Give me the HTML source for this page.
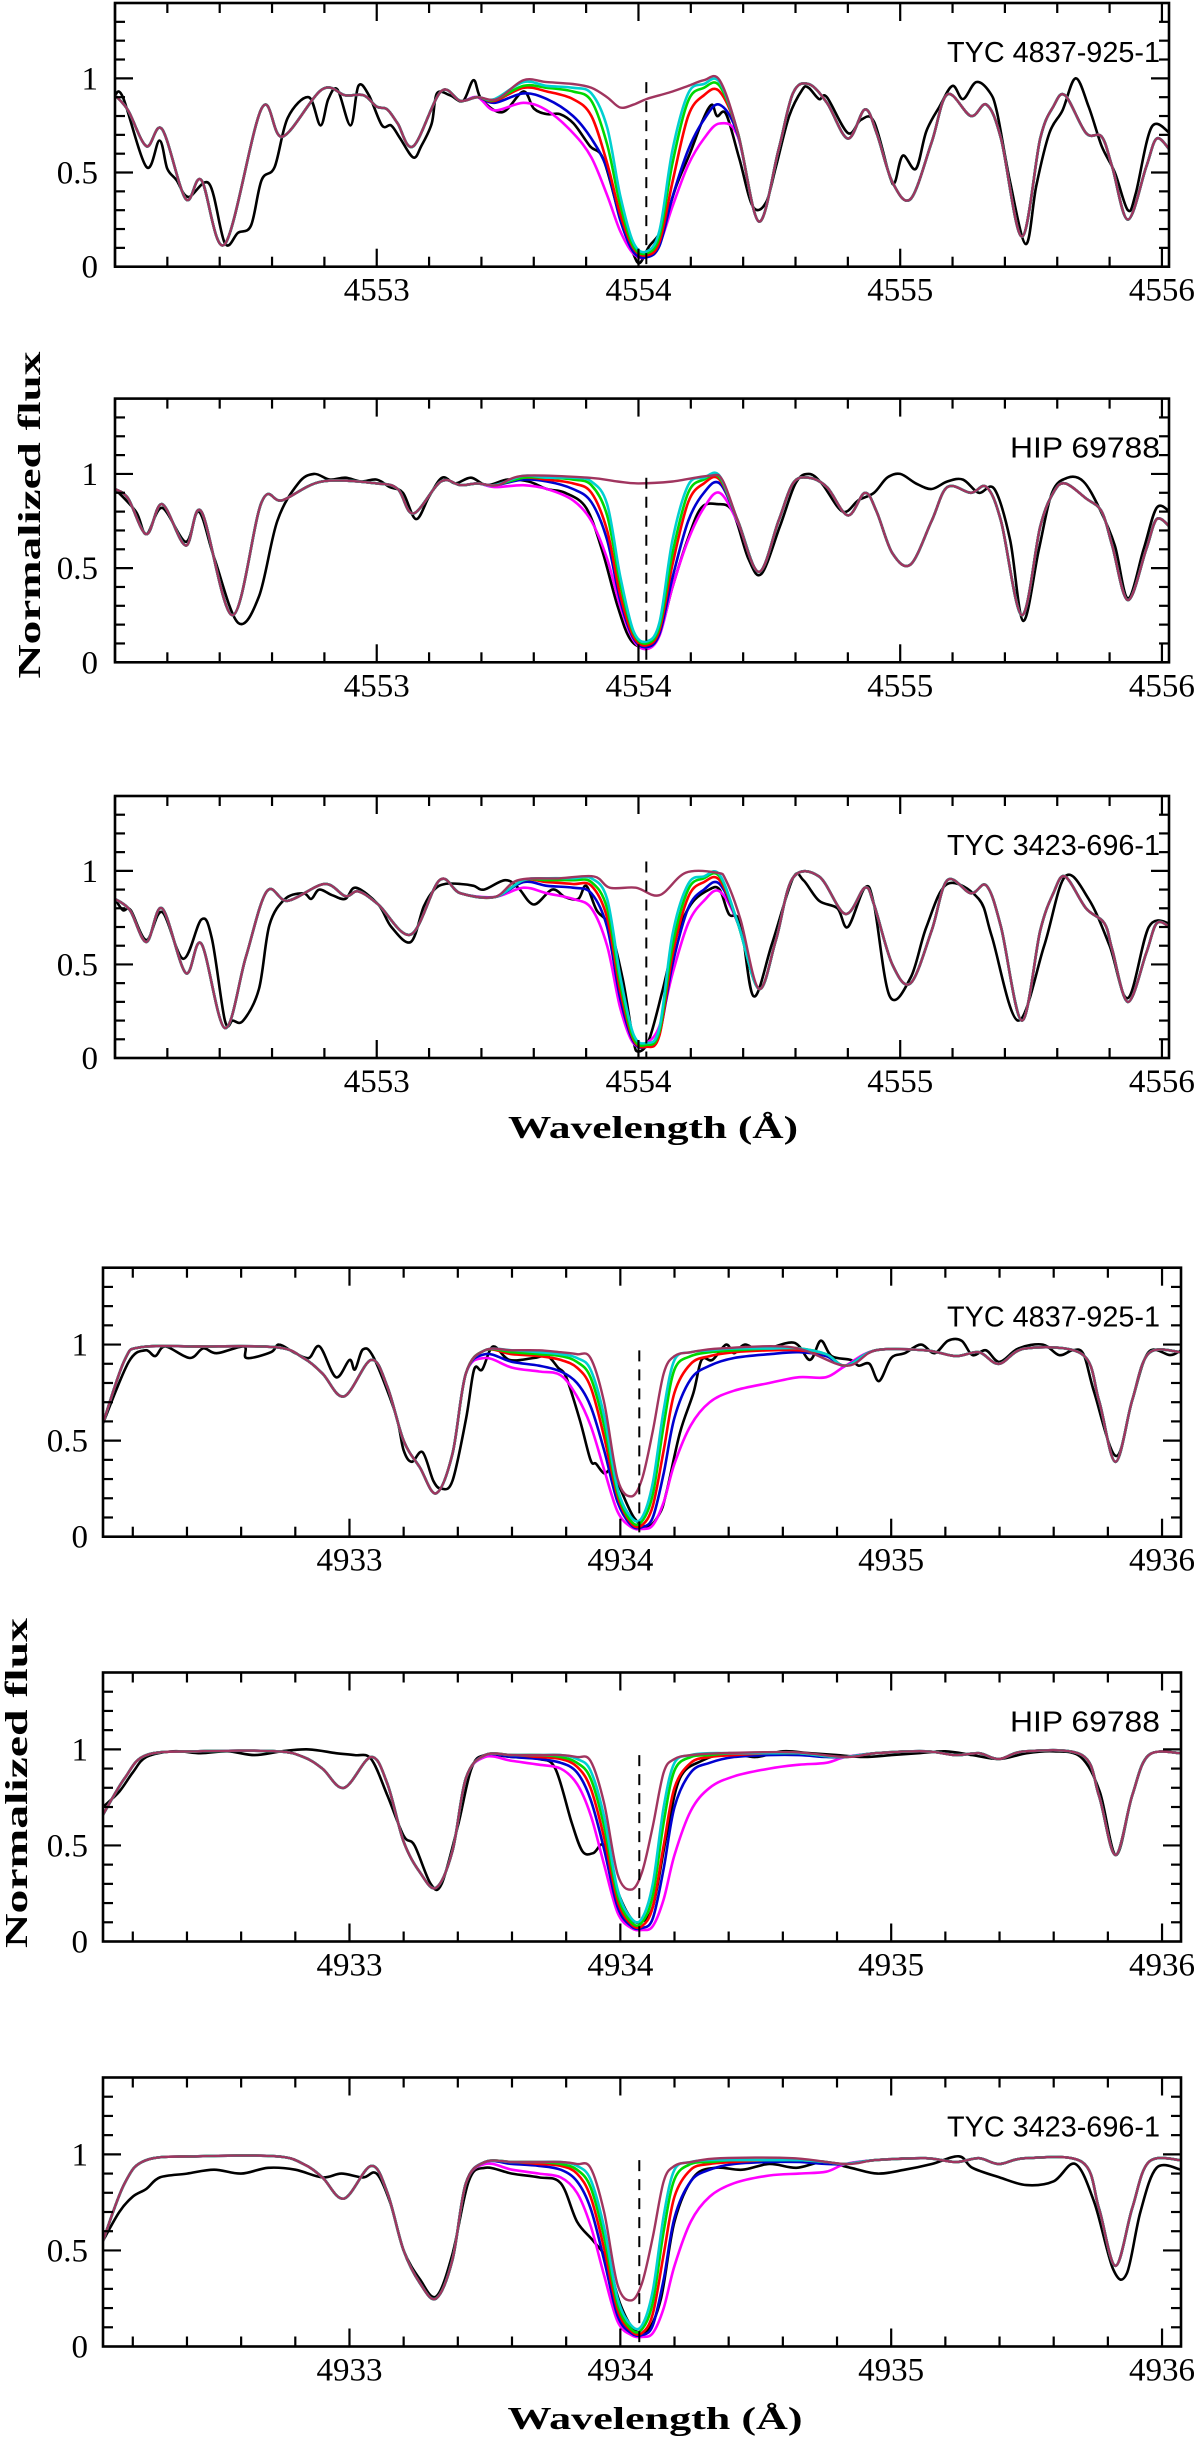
<!DOCTYPE html>
<html><head><meta charset="utf-8"><title>Spectra</title>
<style>
html,body{margin:0;padding:0;background:#fff;}
svg{display:block;}
.tick{font-family:"Liberation Serif",serif;font-size:33px;fill:#000;}
.star{font-family:"Liberation Sans",sans-serif;font-size:29px;fill:#000;}
.title{font-family:"Liberation Serif",serif;font-weight:bold;font-size:32px;fill:#000;}
</style></head>
<body>
<svg id="chart" width="1200" height="2441" viewBox="0 0 1200 2441" xmlns="http://www.w3.org/2000/svg">
<text class="title" transform="translate(40,515) rotate(-90)" text-anchor="middle" textLength="327" lengthAdjust="spacingAndGlyphs">Normalized  flux</text>
<text class="title" transform="translate(27,1783) rotate(-90)" text-anchor="middle" textLength="330" lengthAdjust="spacingAndGlyphs">Normalized  flux</text>
<text class="title" x="653" y="1138" text-anchor="middle" textLength="290" lengthAdjust="spacingAndGlyphs">Wavelength (Å)</text>
<text class="title" x="655" y="2429" text-anchor="middle" textLength="295" lengthAdjust="spacingAndGlyphs">Wavelength (Å)</text>
</svg>
<script>
// ---------- core grids (wavelength, Å) ----------
const topGrid=[4553.45,4553.56,4553.65,4553.75,4553.82,4553.88,4553.93,4553.98,4554.03,4554.08,4554.13,4554.19,4554.25,4554.31,4554.38,4554.46];
const botGrid=[4933.50,4933.60,4933.70,4933.78,4933.84,4933.89,4933.94,4933.99,4934.04,4934.08,4934.12,4934.16,4934.20,4934.26,4934.33,4934.42,4934.55,4934.66,4934.76];

// ---------- Panel 1: TYC 4837-925-1 (4554) ----------
const p1SynWl=[4552.0,4552.05,4552.12,4552.18,4552.27,4552.33,4552.42,4552.56,4552.64,4552.79,4552.88,4552.95,4553.0,4553.04,4553.08,4553.14,4553.245,4553.32,4553.385,4553.46,4553.56,4553.65,4553.75,4553.82,4553.88,4553.93,4553.98,4554.03,4554.08,4554.13,4554.19,4554.25,4554.31,4554.38,4554.46,4554.535,4554.59,4554.65,4554.72,4554.80,4554.865,4554.91,4554.97,4555.04,4555.12,4555.18,4555.27,4555.33,4555.385,4555.465,4555.535,4555.585,4555.63,4555.71,4555.77,4555.81,4555.87,4555.94,4555.98,4556.03];
const p1SynFlux=[0.91,0.83,0.64,0.73,0.36,0.46,0.12,0.84,0.69,0.94,0.91,0.91,0.85,0.835,0.76,0.64,0.93,0.88,0.90,0.89,0.99,0.98,0.97,0.95,0.90,0.845,0.86,0.89,0.91,0.93,0.96,0.99,0.99,0.71,0.24,0.62,0.92,0.97,0.87,0.68,0.835,0.71,0.45,0.36,0.66,0.915,0.80,0.86,0.68,0.16,0.68,0.85,0.91,0.71,0.69,0.53,0.25,0.53,0.68,0.62];
const p1Magenta=[0.83,0.87,0.83,0.71,0.58,0.38,0.19,0.07,0.05,0.12,0.32,0.54,0.68,0.76,0.69,0.24];
const p1Blue=[0.87,0.92,0.89,0.80,0.68,0.52,0.25,0.08,0.05,0.11,0.37,0.62,0.78,0.86,0.70,0.24];
const p1Red=[0.88,0.95,0.93,0.89,0.80,0.55,0.28,0.10,0.06,0.13,0.45,0.80,0.91,0.93,0.71,0.24];
const p1Green=[0.885,0.96,0.95,0.93,0.88,0.65,0.33,0.11,0.07,0.16,0.55,0.88,0.95,0.96,0.71,0.24];
const p1Cyan=[0.89,0.98,0.96,0.95,0.92,0.74,0.38,0.13,0.08,0.19,0.62,0.92,0.97,0.98,0.71,0.24];
const p1ObsWl=[4552.0,4552.03,4552.12,4552.17,4552.20,4552.235,4552.28,4552.36,4552.42,4552.47,4552.52,4552.56,4552.61,4552.66,4552.74,4552.785,4552.815,4552.85,4552.90,4552.93,4552.97,4553.02,4553.055,4553.09,4553.14,4553.17,4553.21,4553.23,4553.28,4553.33,4553.37,4553.40,4553.48,4553.56,4553.60,4553.65,4553.70,4553.752,4553.815,4553.866,4553.93,4553.98,4554.005,4554.04,4554.09,4554.145,4554.196,4554.246,4554.28,4554.30,4554.335,4554.386,4554.437,4554.487,4554.525,4554.576,4554.626,4554.65,4554.69,4554.72,4554.80,4554.85,4554.90,4554.96,4554.98,4555.01,4555.06,4555.10,4555.15,4555.20,4555.24,4555.29,4555.34,4555.37,4555.42,4555.48,4555.52,4555.57,4555.62,4555.67,4555.72,4555.77,4555.82,4555.87,4555.90,4555.96,4556.03];
const p1ObsFlux=[0.91,0.90,0.53,0.67,0.52,0.46,0.37,0.44,0.125,0.18,0.22,0.46,0.53,0.79,0.90,0.75,0.89,0.94,0.75,0.96,0.91,0.75,0.75,0.68,0.58,0.64,0.76,0.92,0.91,0.88,0.99,0.89,0.82,0.93,0.84,0.81,0.81,0.76,0.64,0.57,0.26,0.07,0.02,0.106,0.20,0.43,0.60,0.78,0.86,0.80,0.81,0.57,0.32,0.34,0.53,0.80,0.94,0.95,0.89,0.90,0.71,0.78,0.77,0.48,0.45,0.59,0.52,0.72,0.85,0.96,0.89,0.98,0.93,0.82,0.45,0.12,0.43,0.71,0.83,1.0,0.85,0.64,0.50,0.30,0.39,0.74,0.71];

// ---------- Panel 2: HIP 69788 (4554) ----------
const p2SynWl=[4552.0,4552.05,4552.12,4552.18,4552.27,4552.33,4552.45,4552.56,4552.64,4552.79,4553.0,4553.08,4553.14,4553.245,4553.32,4553.385,4553.46,4553.56,4553.81,4553.92,4554.0,4554.13,4554.27,4554.32,4554.38,4554.46,4554.535,4554.59,4554.65,4554.72,4554.80,4554.865,4554.91,4554.97,4555.04,4555.12,4555.18,4555.27,4555.33,4555.385,4555.465,4555.535,4555.585,4555.63,4555.71,4555.77,4555.81,4555.87,4555.94,4555.98,4556.03];
const p2SynFlux=[0.92,0.87,0.68,0.84,0.62,0.80,0.25,0.85,0.86,0.96,0.95,0.92,0.79,0.96,0.94,0.95,0.94,0.99,0.98,0.96,0.95,0.96,0.99,0.97,0.75,0.48,0.75,0.95,0.98,0.93,0.78,0.90,0.80,0.58,0.52,0.75,0.93,0.90,0.93,0.75,0.25,0.72,0.90,0.95,0.87,0.80,0.62,0.33,0.60,0.76,0.72];
const p2Magenta=[0.93,0.94,0.92,0.86,0.75,0.55,0.30,0.12,0.07,0.14,0.40,0.65,0.82,0.90,0.74,0.48];
const p2Blue=[0.94,0.97,0.96,0.92,0.85,0.65,0.33,0.13,0.08,0.15,0.45,0.75,0.90,0.95,0.75,0.48];
const p2Red=[0.94,0.98,0.97,0.95,0.90,0.70,0.36,0.14,0.09,0.17,0.52,0.85,0.95,0.97,0.75,0.48];
const p2Green=[0.94,0.98,0.98,0.97,0.94,0.78,0.42,0.16,0.10,0.19,0.58,0.90,0.97,0.98,0.75,0.48];
const p2Cyan=[0.94,0.99,0.98,0.98,0.96,0.84,0.46,0.17,0.11,0.21,0.65,0.94,0.98,0.99,0.75,0.48];
const p2ObsWl=[4552.0,4552.08,4552.12,4552.18,4552.27,4552.32,4552.38,4552.47,4552.55,4552.62,4552.70,4552.76,4552.82,4552.88,4552.94,4553.0,4553.05,4553.1,4553.15,4553.2,4553.25,4553.3,4553.36,4553.42,4553.5,4553.58,4553.65,4553.72,4553.8,4553.86,4553.92,4553.97,4554.03,4554.08,4554.13,4554.19,4554.24,4554.3,4554.36,4554.42,4554.47,4554.54,4554.6,4554.65,4554.7,4554.78,4554.84,4554.9,4554.95,4555.0,4555.06,4555.12,4555.18,4555.24,4555.3,4555.36,4555.42,4555.47,4555.53,4555.58,4555.64,4555.7,4555.76,4555.82,4555.87,4555.93,4555.98,4556.03];
const p2ObsFlux=[0.92,0.80,0.68,0.82,0.64,0.80,0.55,0.21,0.35,0.75,0.95,1.0,0.97,0.98,0.96,0.97,0.93,0.90,0.76,0.88,0.98,0.95,0.98,0.94,0.97,0.96,0.92,0.90,0.82,0.60,0.30,0.12,0.08,0.15,0.40,0.66,0.82,0.84,0.80,0.55,0.47,0.72,0.95,1.0,0.95,0.80,0.86,0.90,0.98,1.0,0.95,0.92,0.96,0.97,0.90,0.92,0.65,0.22,0.60,0.90,0.98,0.96,0.82,0.62,0.34,0.60,0.82,0.80];

// ---------- Panel 3: TYC 3423-696-1 (4554) ----------
const p3SynWl=[4552.0,4552.057,4552.12,4552.18,4552.27,4552.33,4552.42,4552.50,4552.58,4552.66,4552.80,4552.88,4552.93,4553.006,4553.13,4553.24,4553.32,4553.45,4553.54,4553.70,4553.83,4553.89,4553.99,4554.08,4554.18,4554.30,4554.334,4554.39,4554.46,4554.525,4554.589,4554.69,4554.79,4554.865,4554.90,4554.97,4555.04,4555.12,4555.18,4555.27,4555.33,4555.385,4555.465,4555.535,4555.585,4555.63,4555.71,4555.78,4555.81,4555.87,4555.94,4555.98,4556.03];
const p3SynFlux=[0.85,0.79,0.62,0.80,0.455,0.61,0.16,0.54,0.89,0.84,0.93,0.865,0.89,0.82,0.66,0.95,0.88,0.86,0.95,0.96,0.97,0.91,0.91,0.87,0.99,0.99,0.95,0.74,0.37,0.63,0.96,0.97,0.77,0.91,0.82,0.50,0.40,0.68,0.95,0.88,0.92,0.70,0.20,0.68,0.88,0.97,0.80,0.72,0.58,0.30,0.56,0.72,0.70];
const p3Magenta=[0.86,0.91,0.88,0.85,0.80,0.60,0.27,0.08,0.08,0.17,0.45,0.72,0.84,0.89,0.72,0.37];
const p3Blue=[0.86,0.94,0.92,0.91,0.88,0.70,0.32,0.09,0.06,0.13,0.50,0.80,0.90,0.93,0.72,0.37];
const p3Red=[0.86,0.95,0.94,0.93,0.92,0.75,0.36,0.10,0.06,0.12,0.55,0.86,0.94,0.95,0.72,0.37];
const p3Green=[0.86,0.95,0.95,0.95,0.94,0.80,0.40,0.11,0.07,0.14,0.60,0.90,0.96,0.97,0.72,0.37];
const p3Cyan=[0.86,0.95,0.96,0.96,0.96,0.85,0.44,0.13,0.08,0.16,0.66,0.93,0.97,0.98,0.72,0.37];
const p3ObsWl=[4552.0,4552.03,4552.06,4552.12,4552.18,4552.26,4552.33,4552.37,4552.42,4552.45,4552.49,4552.55,4552.59,4552.65,4552.72,4552.75,4552.78,4552.83,4552.88,4552.92,4553.006,4553.056,4553.13,4553.18,4553.22,4553.26,4553.32,4553.37,4553.41,4553.49,4553.54,4553.60,4553.67,4553.72,4553.77,4553.80,4553.84,4553.89,4553.94,4553.98,4554.0,4554.04,4554.09,4554.14,4554.20,4554.27,4554.31,4554.345,4554.39,4554.44,4554.51,4554.59,4554.63,4554.69,4554.76,4554.80,4554.865,4554.90,4554.96,4555.04,4555.10,4555.18,4555.3,4555.35,4555.45,4555.55,4555.63,4555.72,4555.8,4555.87,4555.95,4556.03];
const p3ObsFlux=[0.85,0.79,0.79,0.63,0.78,0.53,0.74,0.64,0.20,0.20,0.20,0.37,0.71,0.85,0.88,0.85,0.90,0.87,0.85,0.91,0.82,0.70,0.62,0.81,0.90,0.93,0.93,0.92,0.90,0.95,0.91,0.82,0.90,0.86,0.85,0.92,0.79,0.70,0.42,0.096,0.035,0.096,0.35,0.63,0.82,0.90,0.90,0.77,0.72,0.33,0.61,0.96,0.95,0.84,0.80,0.70,0.91,0.82,0.33,0.43,0.70,0.93,0.85,0.65,0.20,0.60,0.97,0.85,0.60,0.32,0.70,0.72];

// ---------- Panel 4: TYC 4837-925-1 (4934) ----------
const p4SynWl=[4932.09,4932.17,4932.23,4932.44,4932.73,4932.83,4932.90,4932.98,4933.08,4933.14,4933.20,4933.26,4933.32,4933.38,4933.43,4933.50,4933.60,4933.70,4933.78,4933.84,4933.89,4933.94,4933.99,4934.04,4934.08,4934.12,4934.16,4934.20,4934.26,4934.37,4934.636,4934.832,4934.943,4935.127,4935.238,4935.324,4935.398,4935.496,4935.705,4935.767,4935.828,4935.89,4935.951,4936.07];
const p4SynFlux=[0.59,0.92,0.986,0.99,0.986,0.93,0.85,0.73,0.92,0.78,0.50,0.36,0.226,0.43,0.85,0.97,0.97,0.97,0.96,0.95,0.93,0.70,0.30,0.21,0.30,0.55,0.85,0.94,0.96,0.98,0.985,0.89,0.97,0.97,0.94,0.96,0.90,0.98,0.95,0.71,0.39,0.71,0.955,0.96];
const p4Magenta=[0.93,0.88,0.86,0.84,0.73,0.58,0.35,0.13,0.05,0.04,0.06,0.18,0.38,0.58,0.70,0.76,0.80,0.83,0.83];
const p4Blue=[0.95,0.91,0.89,0.86,0.80,0.68,0.45,0.18,0.06,0.05,0.10,0.33,0.62,0.82,0.89,0.93,0.95,0.96,0.94];
const p4Red=[0.97,0.95,0.94,0.92,0.88,0.78,0.52,0.21,0.07,0.06,0.16,0.45,0.75,0.90,0.94,0.96,0.97,0.97,0.95];
const p4Green=[0.97,0.96,0.95,0.94,0.91,0.83,0.58,0.23,0.08,0.08,0.22,0.58,0.87,0.94,0.96,0.97,0.98,0.98,0.95];
const p4Cyan=[0.97,0.97,0.96,0.95,0.93,0.87,0.63,0.25,0.10,0.10,0.28,0.66,0.92,0.96,0.97,0.98,0.98,0.98,0.95];
const p4ObsWl=[4932.09,4932.185,4932.246,4932.283,4932.32,4932.41,4932.46,4932.51,4932.61,4932.62,4932.71,4932.74,4932.80,4932.85,4932.89,4932.95,4933.0,4933.02,4933.05,4933.09,4933.17,4933.20,4933.23,4933.27,4933.31,4933.34,4933.38,4933.43,4933.46,4933.49,4933.53,4933.59,4933.68,4933.73,4933.77,4933.80,4933.85,4933.89,4933.91,4933.94,4933.97,4934.0,4934.05,4934.1,4934.145,4934.17,4934.22,4934.27,4934.30,4934.34,4934.39,4934.42,4934.46,4934.52,4934.64,4934.70,4934.74,4934.78,4934.85,4934.88,4934.92,4934.955,4935.0,4935.05,4935.11,4935.16,4935.21,4935.26,4935.30,4935.35,4935.40,4935.47,4935.56,4935.62,4935.67,4935.71,4935.75,4935.83,4935.89,4935.95,4936.03,4936.07];
const p4ObsFlux=[0.59,0.91,0.97,0.94,0.99,0.93,0.98,0.955,0.99,0.93,0.96,1.0,0.955,0.93,0.99,0.83,0.92,0.87,0.975,0.93,0.64,0.45,0.39,0.44,0.29,0.25,0.29,0.61,0.87,0.87,0.99,0.92,0.93,0.94,0.88,0.83,0.61,0.40,0.38,0.33,0.35,0.25,0.10,0.05,0.12,0.23,0.54,0.75,0.92,0.92,1.0,0.955,1.0,0.97,1.01,0.92,1.02,0.94,0.92,0.89,0.90,0.81,0.93,0.955,1.0,0.955,1.02,1.02,0.945,0.97,0.91,0.98,1.0,0.945,0.97,0.95,0.75,0.42,0.71,0.96,0.945,0.97];

// ---------- Panel 5: HIP 69788 (4934) ----------
const p5SynWl=[4932.09,4932.17,4932.25,4932.44,4932.73,4932.83,4932.90,4932.98,4933.08,4933.14,4933.20,4933.26,4933.32,4933.38,4933.43,4933.50,4933.60,4933.70,4933.78,4933.84,4933.89,4933.94,4933.99,4934.04,4934.08,4934.12,4934.16,4934.20,4934.26,4934.37,4934.636,4934.832,4934.943,4935.127,4935.238,4935.324,4935.398,4935.496,4935.705,4935.767,4935.828,4935.89,4935.951,4936.07];
const p5SynFlux=[0.66,0.85,0.97,0.99,0.99,0.96,0.90,0.80,0.96,0.82,0.52,0.36,0.28,0.47,0.85,0.97,0.97,0.97,0.97,0.96,0.94,0.72,0.35,0.27,0.36,0.60,0.88,0.95,0.97,0.98,0.985,0.96,0.98,0.99,0.97,0.98,0.95,0.99,0.97,0.76,0.45,0.76,0.97,0.98];
const p5Magenta=[0.96,0.94,0.92,0.90,0.82,0.66,0.40,0.15,0.07,0.06,0.08,0.22,0.45,0.68,0.80,0.86,0.90,0.92,0.93];
const p5Blue=[0.97,0.96,0.95,0.93,0.88,0.74,0.48,0.18,0.08,0.07,0.12,0.38,0.70,0.88,0.93,0.96,0.97,0.97,0.96];
const p5Red=[0.97,0.97,0.96,0.95,0.91,0.80,0.54,0.21,0.09,0.08,0.18,0.50,0.80,0.93,0.96,0.97,0.98,0.98,0.965];
const p5Green=[0.97,0.97,0.97,0.96,0.93,0.85,0.60,0.24,0.10,0.10,0.24,0.62,0.89,0.96,0.97,0.98,0.98,0.98,0.965];
const p5Cyan=[0.97,0.97,0.97,0.97,0.95,0.89,0.65,0.27,0.12,0.12,0.30,0.70,0.93,0.97,0.98,0.98,0.98,0.98,0.965];
const p5ObsWl=[4932.09,4932.15,4932.2,4932.25,4932.35,4932.45,4932.55,4932.65,4932.75,4932.85,4932.95,4933.02,4933.08,4933.14,4933.2,4933.24,4933.3,4933.34,4933.4,4933.45,4933.5,4933.6,4933.7,4933.76,4933.82,4933.86,4933.9,4933.94,4933.98,4934.03,4934.07,4934.12,4934.17,4934.22,4934.3,4934.4,4934.5,4934.6,4934.7,4934.8,4934.9,4935.0,4935.1,4935.2,4935.3,4935.4,4935.5,4935.6,4935.7,4935.77,4935.83,4935.89,4935.95,4936.07];
const p5ObsFlux=[0.70,0.78,0.88,0.96,0.99,0.98,0.99,0.97,0.99,1.0,0.98,0.97,0.95,0.76,0.55,0.50,0.30,0.30,0.60,0.90,0.97,0.96,0.95,0.90,0.62,0.47,0.46,0.50,0.30,0.14,0.10,0.18,0.55,0.85,0.94,0.98,0.96,0.99,0.98,0.97,0.96,0.97,0.98,0.99,0.97,0.95,0.98,0.99,0.96,0.78,0.45,0.76,0.97,0.98];

// ---------- Panel 6: TYC 3423-696-1 (4934) ----------
const p6SynWl=[4932.09,4932.17,4932.25,4932.44,4932.73,4932.83,4932.90,4932.98,4933.08,4933.14,4933.20,4933.26,4933.32,4933.38,4933.43,4933.50,4933.60,4933.70,4933.78,4933.84,4933.89,4933.94,4933.99,4934.04,4934.08,4934.12,4934.16,4934.20,4934.26,4934.37,4934.636,4934.832,4934.943,4935.127,4935.238,4935.324,4935.398,4935.496,4935.705,4935.767,4935.828,4935.89,4935.951,4936.07];
const p6SynFlux=[0.55,0.85,0.97,0.99,0.99,0.95,0.88,0.77,0.94,0.80,0.50,0.33,0.25,0.45,0.85,0.96,0.96,0.96,0.96,0.95,0.93,0.70,0.32,0.24,0.33,0.57,0.86,0.94,0.96,0.98,0.98,0.95,0.97,0.98,0.96,0.98,0.95,0.98,0.96,0.72,0.42,0.72,0.96,0.97];
const p6Magenta=[0.95,0.92,0.90,0.88,0.80,0.63,0.37,0.13,0.06,0.05,0.07,0.20,0.42,0.65,0.78,0.85,0.89,0.90,0.91];
const p6Blue=[0.96,0.95,0.94,0.92,0.86,0.72,0.45,0.16,0.07,0.06,0.11,0.35,0.67,0.86,0.92,0.95,0.96,0.96,0.95];
const p6Red=[0.96,0.96,0.95,0.94,0.90,0.78,0.51,0.19,0.08,0.07,0.17,0.48,0.78,0.92,0.95,0.96,0.97,0.97,0.96];
const p6Green=[0.96,0.96,0.96,0.95,0.92,0.83,0.57,0.22,0.09,0.09,0.23,0.60,0.87,0.95,0.96,0.97,0.97,0.97,0.96];
const p6Cyan=[0.96,0.96,0.96,0.96,0.94,0.87,0.62,0.25,0.11,0.11,0.29,0.68,0.92,0.96,0.97,0.97,0.97,0.97,0.96];
const p6ObsWl=[4932.09,4932.15,4932.2,4932.25,4932.3,4932.4,4932.5,4932.6,4932.7,4932.8,4932.9,4932.97,4933.05,4933.1,4933.15,4933.2,4933.26,4933.32,4933.38,4933.44,4933.5,4933.6,4933.7,4933.78,4933.84,4933.9,4933.95,4934.0,4934.05,4934.1,4934.15,4934.2,4934.27,4934.35,4934.45,4934.55,4934.65,4934.75,4934.85,4934.95,4935.05,4935.15,4935.25,4935.3,4935.4,4935.5,4935.6,4935.68,4935.75,4935.82,4935.87,4935.92,4935.98,4936.07];
const p6ObsFlux=[0.55,0.70,0.78,0.82,0.88,0.90,0.92,0.90,0.93,0.92,0.88,0.90,0.88,0.90,0.75,0.50,0.35,0.26,0.48,0.86,0.93,0.90,0.88,0.85,0.65,0.55,0.45,0.22,0.09,0.08,0.25,0.65,0.88,0.93,0.92,0.95,0.93,0.96,0.93,0.90,0.92,0.95,0.99,0.93,0.88,0.84,0.86,0.95,0.75,0.40,0.38,0.70,0.93,0.92];

const xTicksTop=[4553,4554,4555,4556];
const xTicksBot=[4933,4934,4935,4936];
const yTickLabels=["0","0.5","1"];
const yTickValues=[0,0.5,1];
const starNames=["TYC 4837-925-1","HIP 69788","TYC 3423-696-1","TYC 4837-925-1","HIP 69788","TYC 3423-696-1"];
const lineCenters=[4554.03,4934.07];

// ---------- layout ----------
const SVGNS="http://www.w3.org/2000/svg";
const svg=document.getElementById('chart');
const colors={magenta:"#ff00ff",blue:"#0000d0",red:"#ff0000",green:"#00d800",cyan:"#00d0d0",maroon:"#a0355f"};
const panels=[
 {left:115,right:1169,bottom:266.7,h:263.7,x0:4552.0,x1:4556.027,ticks:xTicksTop,grid:topGrid,center:lineCenters[0],dashTop:0.98,obsW:p1ObsWl,obs:p1ObsFlux,synW:p1SynWl,syn:p1SynFlux,m:[p1Magenta,p1Blue,p1Red,p1Green,p1Cyan],name:starNames[0],lab:98},
 {left:115,right:1169,bottom:662.3,h:263.7,x0:4552.0,x1:4556.027,ticks:xTicksTop,grid:topGrid,center:lineCenters[0],dashTop:0.98,obsW:p2ObsWl,obs:p2ObsFlux,synW:p2SynWl,syn:p2SynFlux,m:[p2Magenta,p2Blue,p2Red,p2Green,p2Cyan],name:starNames[1],lab:98},
 {left:115,right:1169,bottom:1058,h:262,x0:4552.0,x1:4556.027,ticks:xTicksTop,grid:topGrid,center:lineCenters[0],dashTop:1.05,obsW:p3ObsWl,obs:p3ObsFlux,synW:p3SynWl,syn:p3SynFlux,m:[p3Magenta,p3Blue,p3Red,p3Green,p3Cyan],name:starNames[2],lab:98},
 {left:103,right:1181,bottom:1536.7,h:269,x0:4932.09,x1:4936.07,ticks:xTicksBot,grid:botGrid,center:lineCenters[1],dashTop:0.97,obsW:p4ObsWl,obs:p4ObsFlux,synW:p4SynWl,syn:p4SynFlux,m:[p4Magenta,p4Blue,p4Red,p4Green,p4Cyan],name:starNames[3],lab:88},
 {left:103,right:1181,bottom:1941.5,h:269,x0:4932.09,x1:4936.07,ticks:xTicksBot,grid:botGrid,center:lineCenters[1],dashTop:0.97,obsW:p5ObsWl,obs:p5ObsFlux,synW:p5SynWl,syn:p5SynFlux,m:[p5Magenta,p5Blue,p5Red,p5Green,p5Cyan],name:starNames[4],lab:88},
 {left:103,right:1181,bottom:2346.5,h:269,x0:4932.09,x1:4936.07,ticks:xTicksBot,grid:botGrid,center:lineCenters[1],dashTop:0.97,obsW:p6ObsWl,obs:p6ObsFlux,synW:p6SynWl,syn:p6SynFlux,m:[p6Magenta,p6Blue,p6Red,p6Green,p6Cyan],name:starNames[5],lab:88}
];
const modelKeys=["magenta","blue","red","green","cyan"];

function mk(tag,attrs,parent){const e=document.createElementNS(SVGNS,tag);for(const k in attrs)e.setAttribute(k,attrs[k]);(parent||svg).appendChild(e);return e;}
function smoothPath(pts){
  if(pts.length<2)return "";
  let d="M"+pts[0][0].toFixed(1)+","+pts[0][1].toFixed(1);
  for(let i=0;i<pts.length-1;i++){
    const p0=pts[i-1]||pts[i],p1=pts[i],p2=pts[i+1],p3=pts[i+2]||p2;
    const c1x=p1[0]+(p2[0]-p0[0])/6,c1y=p1[1]+(p2[1]-p0[1])/6;
    const c2x=p2[0]-(p3[0]-p1[0])/6,c2y=p2[1]-(p3[1]-p1[1])/6;
    d+="C"+c1x.toFixed(1)+","+c1y.toFixed(1)+" "+c2x.toFixed(1)+","+c2y.toFixed(1)+" "+p2[0].toFixed(1)+","+p2[1].toFixed(1);
  }
  return d;
}

panels.forEach((P,pi)=>{
  const top=P.bottom-P.h;
  const xs=v=>P.left+(v-P.x0)/(P.x1-P.x0)*(P.right-P.left);
  const ys=v=>P.bottom-v/1.4*P.h;
  const g=mk('g',{});
  
  
  const clipId='clip'+pi;
  const cp=mk('clipPath',{id:clipId},g);
  mk('rect',{x:P.left,y:top,width:P.right-P.left,height:P.h},cp);
  const plot=mk('g',{'clip-path':'url(#'+clipId+')'},g);
  
  
  const obsPts=P.obsW.map((w,i)=>[xs(w),ys(P.obs[i])]);
  const ob=mk('path',{d:smoothPath(obsPts),fill:'none',stroke:'#000','stroke-width':2.6,'stroke-linejoin':'round'},plot);
  
  
  const g0=P.grid[0],g1=P.grid[P.grid.length-1];
  modelKeys.forEach((key,mi)=>{
    const vals=P.m[mi];
    const pts=[];
    P.synW.forEach((w,i)=>{if(w<g0)pts.push([w,P.syn[i]]);});
    P.grid.forEach((w,i)=>pts.push([w,vals[i]]));
    P.synW.forEach((w,i)=>{if(w>g1)pts.push([w,P.syn[i]]);});
    const el=mk('path',{d:smoothPath(pts.map(p=>[xs(p[0]),ys(p[1])])),fill:'none',stroke:colors[key],'stroke-width':2.6,'stroke-linejoin':'round'},plot);
    
    
  });
  const bp=P.synW.map((w,i)=>[xs(w),ys(P.syn[i])]);
  const base=mk('path',{d:smoothPath(bp),fill:'none',stroke:colors.maroon,'stroke-width':2.4,'stroke-linejoin':'round'},plot);
  
  
  const dl=mk('line',{x1:xs(P.center),x2:xs(P.center),y1:ys(P.dashTop),y2:P.bottom,stroke:'#000','stroke-width':2,'stroke-dasharray':'11,8'},g);
  
  
  const fr=mk('rect',{x:P.left,y:top,width:P.right-P.left,height:P.h,fill:'none',stroke:'#000','stroke-width':2.6},g);
  
  
  const xt=mk('g',{stroke:'#000','stroke-width':2.2},g);
  
  
  const first=Math.ceil(P.x0*5-1e-6),last=Math.floor(P.x1*5+1e-6);
  for(let k=first;k<=last;k++){
    const w=k/5,x=xs(w),major=(k%5===0),L=major?18:10;
    mk('line',{x1:x,x2:x,y1:P.bottom,y2:P.bottom-L},xt);
    mk('line',{x1:x,x2:x,y1:top,y2:top+L},xt);
  }
  P.ticks.forEach(t=>{
    const tx=mk('text',{x:xs(t),y:P.bottom+34,'text-anchor':'middle',class:'tick'},g);
    tx.textContent=String(t);
    
    
  });
  const yt=mk('g',{stroke:'#000','stroke-width':2.2},g);
  
  
  for(let k=1;k<14;k++){
    const y=ys(k/10),L=(k%5===0)?18:10;
    mk('line',{x1:P.left,x2:P.left+L,y1:y,y2:y},yt);
    mk('line',{x1:P.right,x2:P.right-L,y1:y,y2:y},yt);
  }
  yTickValues.forEach((v,i)=>{
    const ty=mk('text',{x:P.lab,y:ys(v)+11,'text-anchor':'end',class:'tick'},g);
    ty.textContent=yTickLabels[i];
    
    
  });
  const st=mk('text',{x:1160,y:top+59,'text-anchor':'end',class:'star',textLength:P.name.length>10?213:150,lengthAdjust:'spacingAndGlyphs'},g);
  st.textContent=P.name;
  
  
});
</script>
</body></html>
